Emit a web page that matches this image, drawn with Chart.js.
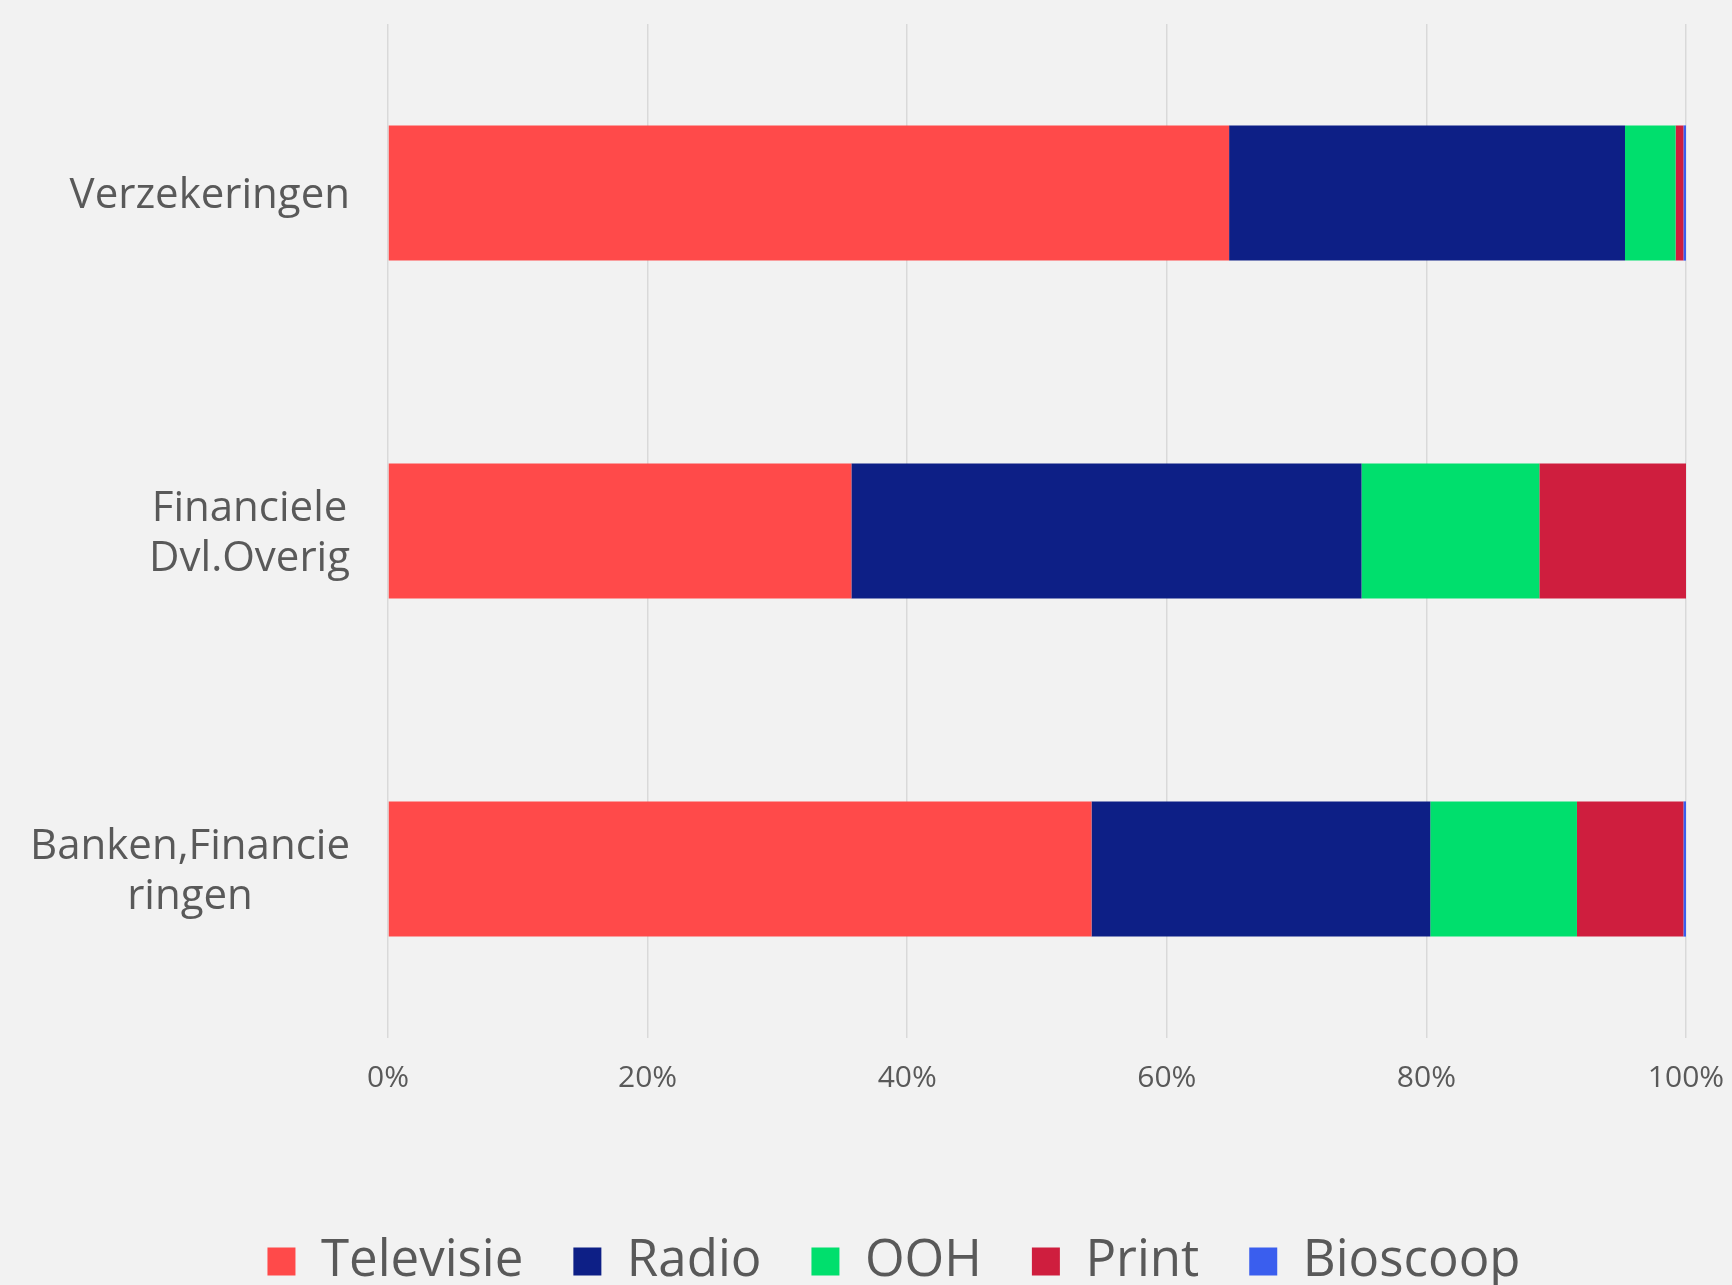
<!DOCTYPE html>
<html>
<head>
<meta charset="utf-8">
<script src="https://cdn.jsdelivr.net/npm/chart.js@4/dist/chart.umd.min.js"></script>
<style>
    html, body { margin: 0; padding: 0; background: #f2f2f2; overflow: hidden; }
    #wrap { position: relative; width: 1732px; height: 1297px; }
</style>
</head>
<body>
<div id="wrap"><canvas id="media-chart"></canvas></div>
<script>
// categories (multi-line labels as in the original)
const categories = [
    ['Verzekeringen'],
    ['Financiele', 'Dvl.Overig'],
    ['Banken,Financie', 'ringen']
];

// share per medium, in %
const televisie = [64.8, 35.7, 54.2];
const radio = [30.5, 39.3, 26.1];
const ooh = [3.9, 13.7, 11.3];
const print = [0.6, 11.3, 8.2];
const bioscoop = [0.2, 0.0, 0.2];

const xTicks = [0, 20, 40, 60, 80, 100];

const textColor = '#595959';
const fontFamily = "'Open Sans', sans-serif";

// draws the category labels, lines centred on each other, block right-aligned
const categoryLabels = {
    id: 'categoryLabels',
    afterDraw(chart) {
        const yScale = chart.scales.y;
        const ctx = chart.ctx;
        const size = 42;
        const lineHeight = size * 1.2;
        const right = chart.chartArea.left - 38;
        ctx.save();
        ctx.font = size + 'px ' + fontFamily;
        ctx.fillStyle = textColor;
        ctx.textAlign = 'center';
        ctx.textBaseline = 'middle';
        categories.forEach((lines, i) => {
            const y = yScale.getPixelForTick(i) + 3;
            const maxW = Math.max(...lines.map(l => ctx.measureText(l).width));
            const cx = right - maxW / 2;
            lines.forEach((line, j) => {
                ctx.fillText(line, cx, y + (j - (lines.length - 1) / 2) * lineHeight);
            });
        });
        ctx.restore();
    }
};

const ctx = document.getElementById('media-chart').getContext('2d');

new Chart(ctx, {
    type: 'bar',
    data: {
        labels: categories,
        datasets: [
            { label: 'Televisie', data: televisie, backgroundColor: '#ff4a4a' },
            { label: 'Radio', data: radio, backgroundColor: '#0d1f86' },
            { label: 'OOH', data: ooh, backgroundColor: '#00df6d' },
            { label: 'Print', data: print, backgroundColor: '#cf1e3e' },
            { label: 'Bioscoop', data: bioscoop, backgroundColor: '#3a5eee' }
        ]
    },
    options: {
        indexAxis: 'y',
        responsive: true,
        maintainAspectRatio: false,
        animation: false,
        datasets: {
            bar: { barPercentage: 0.4, categoryPercentage: 1, borderWidth: 0 }
        },
        layout: {
            padding: { top: 24, right: 46, bottom: 0, left: 102 }
        },
        scales: {
            x: {
                stacked: true,
                min: 0,
                max: 100,
                afterBuildTicks: scale => {
                    scale.ticks = xTicks.map(v => ({ value: v }));
                },
                afterFit: scale => {
                    scale.height = 148;
                    scale.paddingLeft = 0;
                    scale.paddingRight = 25;
                },
                grid: { color: '#d9d9d9', lineWidth: 1.5, drawTicks: false },
                border: { display: false },
                ticks: {
                    padding: 22,
                    color: textColor,
                    font: { family: fontFamily, size: 30 },
                    callback: v => v + '%'
                }
            },
            y: {
                stacked: true,
                afterFit: scale => { scale.width = 286; },
                grid: { display: false },
                border: { display: false },
                ticks: { display: false }
            }
        },
        plugins: {
            legend: {
                position: 'bottom',
                labels: {
                    boxWidth: 28,
                    boxHeight: 28,
                    padding: 50,
                    color: textColor,
                    font: { family: fontFamily, size: 51 }
                }
            },
            tooltip: { enabled: false }
        }
    },
    plugins: [categoryLabels]
});
</script>
</body>
</html>
